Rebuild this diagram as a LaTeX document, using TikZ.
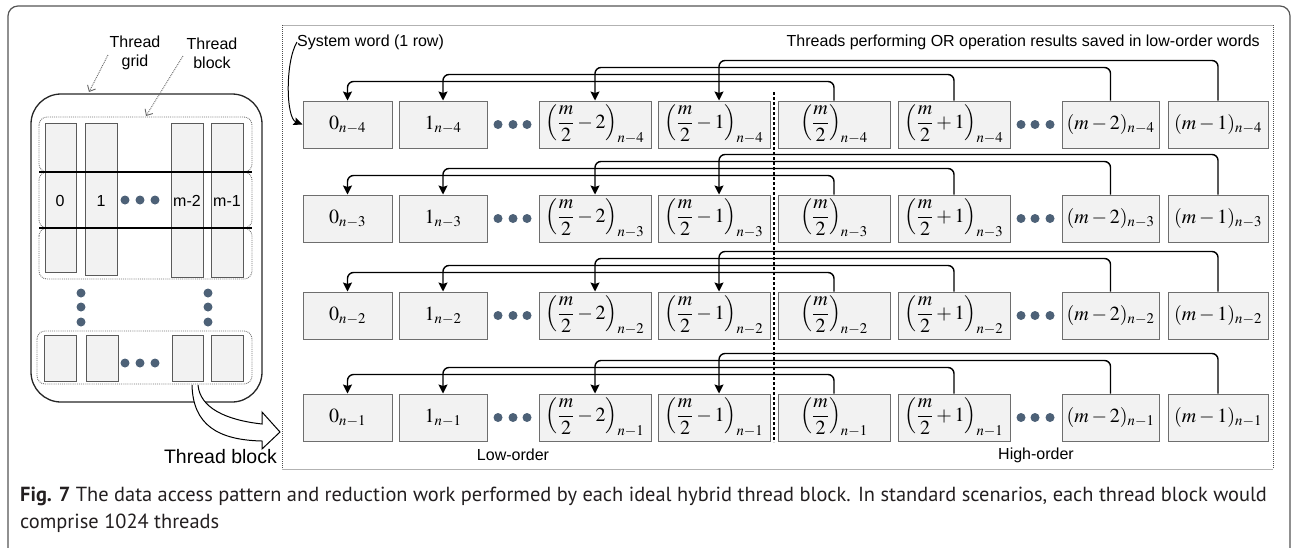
\RequirePackage{fix-cm}
\documentclass[tikz,border=0pt]{standalone}
\usepackage{mathptmx}
\usepackage[no-math]{fontspec}
\setmainfont{Liberation Sans}
\newfontfamily\capfont{PT Sans}
\usetikzlibrary{arrows.meta}
\definecolor{boxfill}{HTML}{F2F2F2}
\definecolor{boxline}{HTML}{6E6E6E}
\definecolor{colline}{HTML}{5A5A5A}
\definecolor{dotc}{HTML}{4D6177}
\definecolor{framec}{HTML}{555555}
\definecolor{capc}{HTML}{231F20}
\begin{document}
\begin{tikzpicture}[x=1pt,y=-1pt,
  word/.style={draw=boxline,fill=boxfill,line width=1pt,inner sep=0pt,minimum height=47pt,font=\fontsize{20}{22}\selectfont},
  conn/.style={line width=1.4pt,rounded corners=6pt,-{Stealth[length=9pt,width=9pt,inset=1.5pt]}},
  col/.style={draw=colline,fill=boxfill,line width=1pt},
  dotrow/.style={draw=black!55,densely dotted,line width=0.9pt,rounded corners=8pt},
  bigdot/.style={fill=dotc},
  lab/.style={font=\fontsize{16}{19}\selectfont,inner sep=0pt,align=center},
  ptr/.style={draw=black!60,densely dotted,line width=0.9pt,-{Straight Barb[length=5pt,width=9pt]}}
]
\useasboundingbox (0,0) rectangle (1292,547);
\begin{scope}
\clip (0,0) rectangle (1292,547);
\draw[framec,line width=1.2pt,rounded corners=10pt] (8,580) rectangle (1290,6);
\end{scope}

% ---------- left panel ----------
\draw[line width=1.3pt,draw=black!85,rounded corners=30pt] (31,94) rectangle (262,402);
\foreach \ya/\yb in {117/172,172/228,228/279}{
  \draw[dotrow] (39,\ya) rectangle (252,\yb);
}
\draw[col] (45,123) rectangle (76,272);
\draw[col] (85,123) rectangle (117,275);
\draw[col] (171,123) rectangle (203,277);
\draw[col] (211,123) rectangle (243,277);
\draw[line width=1.3pt] (39,172) -- (252,172);
\draw[line width=1.3pt] (39,228) -- (252,228);
\node[lab] (t0) at (60,201) {0};
\node[lab] (t1) at (101,201) {1};
\node[lab] (tm2) at (187,201) {m-2};
\node[lab] (tm1) at (227,201) {m-1};
\foreach \x in {125,140,155}{\fill[bigdot] (\x,200) circle (4.5pt);}
\foreach \x in {81,208}{\foreach \y in {293,307,322}{\fill[bigdot] (\x,\y) circle (4.5pt);}}
\draw[dotrow] (37,331) rectangle (252,384);
\draw[col] (44,335) rectangle (76,381);
\draw[col] (86,335) rectangle (118,381);
\draw[col] (172,335) rectangle (203,381);
\draw[col] (211,335) rectangle (243,381);
\foreach \x in {125,140,155}{\fill[bigdot] (\x,363) circle (4.5pt);}

\node[lab] (gridlab) at (135,53) {Thread\\grid};
\node[lab] (blocklab) at (212,53) {Thread\\block};
\draw[ptr] (108,55) -- (89,92);
\draw[ptr] (183,56) -- (146,116);

% hollow arrow
\draw[fill=white,line width=1pt] (192,385) .. controls (193,425) and (218,440) .. (262,441)
  -- (262,449) -- (280,432) -- (262,412) -- (262,424)
  .. controls (226,420) and (200,408) .. (198,385);
\node[font=\fontsize{19.5}{22}\selectfont,anchor=east,inner sep=0pt] (tblab) at (277,457) {Thread block};

% ---------- right panel ----------
\draw[black!30,line width=1pt] (282,25) -- (1273,25);
\draw[black!30,line width=1pt] (282,469) -- (1273,469);
\draw[black!70,densely dotted,line width=1pt] (282,25) -- (282,469);
\draw[black!70,densely dotted,line width=1pt] (1273,25) -- (1273,469);
\draw[line width=1.2pt,dash pattern=on 3pt off 2pt] (774,92) -- (774,442);

\node[lab,anchor=west] (sysw) at (297,42) {System word (1 row)};
\node[lab,anchor=east] (orlab) at (1260,42) {Threads performing OR operation results saved in low-order words};
\node[lab] (lowlab) at (513,455) {Low-order};
\node[lab] (highlab) at (1036,455) {High-order};

\foreach \r/\T/\k in {1/101/4,2/195/3,3/292/2,4/394/1}{
  \pgfmathsetmacro\Y{\T+23.5}
  \node[word,minimum width=89pt] (w\r0) at (347.5,\Y) {$0_{n-\k}$};
  \node[word,minimum width=88pt] (w\r1) at (443,\Y) {$1_{n-\k}$};
  \node[word,minimum width=112pt] (w\r2) at (595,\Y) {$\displaystyle\left(\frac{m}{2}-2\right)_{n-\k}$};
  \node[word,minimum width=112pt] (w\r3) at (714,\Y) {$\displaystyle\left(\frac{m}{2}-1\right)_{n-\k}$};
  \node[word,minimum width=112pt] (w\r4) at (834,\Y) {$\displaystyle\left(\frac{m}{2}\right)_{n-\k}$};
  \node[word,minimum width=112pt] (w\r5) at (954,\Y) {$\displaystyle\left(\frac{m}{2}+1\right)_{n-\k}$};
  \node[word,minimum width=97pt] (w\r6) at (1110.5,\Y) {$(m-2)_{n-\k}$};
  \node[word,minimum width=100pt] (w\r7) at (1218,\Y) {$(m-1)_{n-\k}$};
  \foreach \x in {498,513,527,1021,1035,1050}{\fill[bigdot] (\x,\Y) circle (4.5pt);}
  \draw[conn] (w\r7.north) -- ++(0,-40) -| ([xshift=5pt]w\r3.north);
  \draw[conn] (w\r6.north) -- ++(0,-33) -| (w\r2.north);
  \draw[conn] (w\r5.north) -- ++(0,-26) -| (w\r1.north);
  \draw[conn] (w\r4.north) -- ++(0,-19) -| (w\r0.north);
}
\draw[line width=1pt,-{Stealth[length=9pt,width=8pt,inset=1.5pt]}] (sysw.west) .. controls (285,62) and (286,118) .. (w10.west);

% ---------- caption ----------
\node[anchor=west,inner sep=0pt,text=capc,font=\capfont\fontsize{20.4}{24}\selectfont] (cap1) at (20,496) {\textbf{Fig. 7} The data access pattern and reduction work performed by each ideal hybrid thread block. In standard scenarios, each thread block would};
\node[anchor=west,inner sep=0pt,text=capc,font=\capfont\fontsize{20.4}{24}\selectfont] (cap2) at (20,523) {comprise 1024 threads};
\end{tikzpicture}
\end{document}
